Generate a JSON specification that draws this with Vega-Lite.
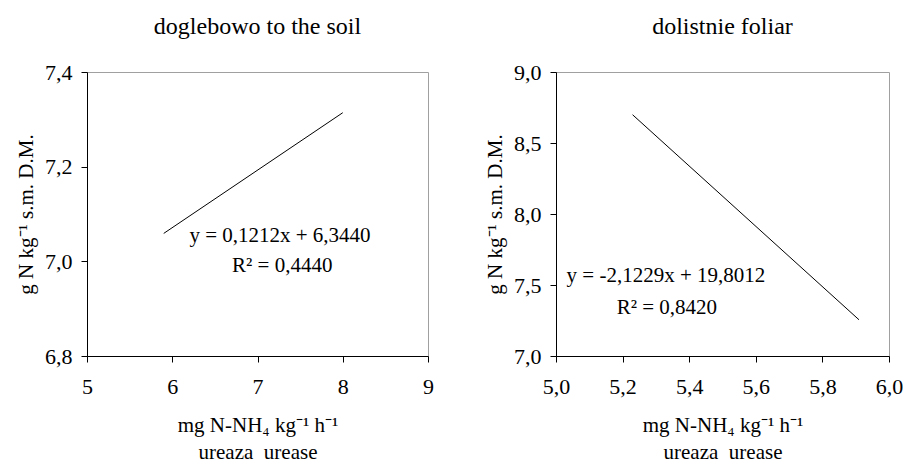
{
  "$schema": "https://vega.github.io/schema/vega-lite/v6.json",
  "background": "white",
  "padding": {"left": 15, "top": 14, "right": 0, "bottom": 0},
  "autosize": {"type": "pad"},
  "spacing": 50,
  "config": {
    "font": "Liberation Serif",
    "view": {"stroke": "#a0a0a0", "strokeWidth": 1},
    "axis": {
      "domainColor": "black", "tickColor": "black", "grid": false,
      "labelFont": "Liberation Serif", "labelFontSize": 22, "labelColor": "black",
      "titleFont": "Liberation Serif", "titleFontSize": 21, "titleFontWeight": "normal", "titleColor": "black",
      "tickSize": 6, "domainWidth": 1, "tickWidth": 1, "labelFlush": false, "labelOverlap": false
    },
    "axisX": {"labelPadding": 14, "titlePadding": 17, "titleLineHeight": 27.5},
    "axisY": {"labelPadding": 9, "titlePadding": 8},
    "title": {"font": "Liberation Serif", "fontSize": 24, "fontWeight": "normal", "color": "black", "offset": 22}
  },
  "datasets": {
    "soil_line": [{"x": 5.9, "y": 7.059}, {"x": 8.0, "y": 7.314}],
    "soil_eq": [{"x": 7.264, "y": 7.041, "label": "y = 0,1212x + 6,3440"}, {"x": 7.29, "y": 6.977, "label": "R² = 0,4440"}],
    "foliar_line": [{"x": 5.23, "y": 8.699}, {"x": 5.91, "y": 7.255}],
    "foliar_eq": [{"x": 5.33, "y": 7.521, "label": "y = -2,1229x + 19,8012"}, {"x": 5.333, "y": 7.296, "label": "R² = 0,8420"}]
  },
  "hconcat": [
    {
      "title": "doglebowo to the soil",
      "width": 341, "height": 284,
      "layer": [
        {
          "data": {"name": "soil_line"},
          "mark": {"type": "line", "color": "black", "strokeWidth": 1},
          "encoding": {
            "x": {"field": "x", "type": "quantitative", "scale": {"domain": [5, 9], "nice": false, "zero": false},
                  "axis": {"values": [5, 6, 7, 8, 9], "format": "d", "title": ["mg N-NH₄ kg⁻¹ h⁻¹", "ureaza\u00a0 urease"]}},
            "y": {"field": "y", "type": "quantitative", "scale": {"domain": [6.8, 7.4], "nice": false, "zero": false},
                  "axis": {"values": [6.8, 7.0, 7.2, 7.4], "labelExpr": "replace(format(datum.value, '.1f'), '.', ',')", "title": "g N kg⁻¹ s.m. D.M."}}
          }
        },
        {
          "data": {"name": "soil_eq"},
          "mark": {"type": "text", "fontSize": 21, "align": "center", "baseline": "alphabetic", "font": "Liberation Serif", "color": "black"},
          "encoding": {
            "x": {"field": "x", "type": "quantitative"},
            "y": {"field": "y", "type": "quantitative"},
            "text": {"field": "label"}
          }
        }
      ]
    },
    {
      "title": "dolistnie foliar",
      "width": 333, "height": 284,
      "layer": [
        {
          "data": {"name": "foliar_line"},
          "mark": {"type": "line", "color": "black", "strokeWidth": 1},
          "encoding": {
            "x": {"field": "x", "type": "quantitative", "scale": {"domain": [5, 6], "nice": false, "zero": false},
                  "axis": {"values": [5.0, 5.2, 5.4, 5.6, 5.8, 6.0], "labelExpr": "replace(format(datum.value, '.1f'), '.', ',')", "title": ["mg N-NH₄ kg⁻¹ h⁻¹", "ureaza\u00a0 urease"]}},
            "y": {"field": "y", "type": "quantitative", "scale": {"domain": [7, 9], "nice": false, "zero": false},
                  "axis": {"values": [7.0, 7.5, 8.0, 8.5, 9.0], "labelExpr": "replace(format(datum.value, '.1f'), '.', ',')", "title": "g N kg⁻¹ s.m. D.M."}}
          }
        },
        {
          "data": {"name": "foliar_eq"},
          "mark": {"type": "text", "fontSize": 21, "align": "center", "baseline": "alphabetic", "font": "Liberation Serif", "color": "black"},
          "encoding": {
            "x": {"field": "x", "type": "quantitative"},
            "y": {"field": "y", "type": "quantitative"},
            "text": {"field": "label"}
          }
        }
      ]
    }
  ]
}
